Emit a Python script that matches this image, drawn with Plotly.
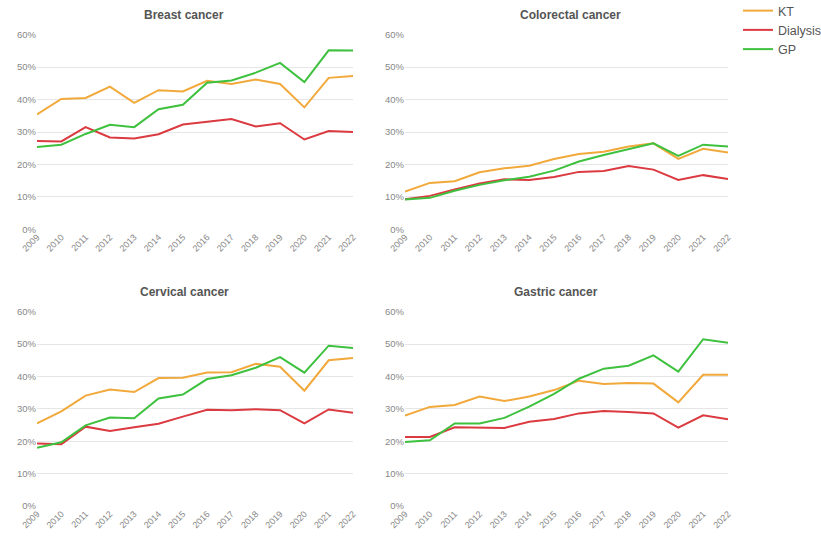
import plotly.graph_objects as go

years = [str(y) for y in range(2009, 2023)]
series_names = ["KT", "Dialysis", "GP"]
colors = {"KT": "#F2A93B", "Dialysis": "#DB3A40", "GP": "#3EC13E"}

breast_kt = [35.4, 40.2, 40.5, 44.0, 39.0, 42.9, 42.5, 45.8, 44.8, 46.2, 44.8, 37.6, 46.7, 47.3]
breast_dialysis = [27.2, 27.1, 31.5, 28.3, 28.0, 29.3, 32.3, 33.1, 34.0, 31.7, 32.7, 27.7, 30.3, 30.0]
breast_gp = [25.4, 26.1, 29.4, 32.2, 31.5, 37.0, 38.4, 45.2, 45.9, 48.3, 51.3, 45.4, 55.2, 55.1]

colorectal_kt = [11.6, 14.3, 14.8, 17.6, 18.8, 19.6, 21.7, 23.2, 23.9, 25.5, 26.5, 21.7, 24.8, 23.7]
colorectal_dialysis = [9.3, 10.3, 12.3, 14.1, 15.4, 15.2, 16.1, 17.7, 18.0, 19.5, 18.4, 15.2, 16.7, 15.5]
colorectal_gp = [9.2, 9.7, 11.9, 13.7, 15.1, 16.2, 18.1, 20.9, 22.9, 24.8, 26.5, 22.6, 26.1, 25.5]

cervical_kt = [25.5, 29.2, 34.1, 36.0, 35.2, 39.5, 39.6, 41.2, 41.3, 43.9, 43.0, 35.6, 45.0, 45.7]
cervical_dialysis = [19.3, 19.1, 24.5, 23.2, 24.3, 25.4, 27.6, 29.7, 29.6, 29.9, 29.6, 25.5, 29.8, 28.8]
cervical_gp = [18.0, 19.7, 24.9, 27.3, 27.1, 33.2, 34.4, 39.2, 40.4, 42.7, 46.0, 41.2, 49.5, 48.8]

gastric_kt = [27.9, 30.6, 31.2, 33.8, 32.4, 33.8, 35.8, 38.7, 37.7, 38.0, 37.8, 32.0, 40.5, 40.5]
gastric_dialysis = [21.3, 21.3, 24.3, 24.2, 24.1, 26.0, 26.9, 28.6, 29.3, 29.0, 28.6, 24.2, 28.0, 26.8]
gastric_gp = [19.8, 20.3, 25.5, 25.5, 27.2, 30.7, 34.6, 39.3, 42.4, 43.3, 46.5, 41.5, 51.5, 50.4]

panels = [
    ("Breast cancer", [breast_kt, breast_dialysis, breast_gp]),
    ("Colorectal cancer", [colorectal_kt, colorectal_dialysis, colorectal_gp]),
    ("Cervical cancer", [cervical_kt, cervical_dialysis, cervical_gp]),
    ("Gastric cancer", [gastric_kt, gastric_dialysis, gastric_gp]),
]
y_ticks = [0, 10, 20, 30, 40, 50, 60]
y_tick_labels = [f"{v}%" for v in y_ticks]

W, H = 821, 536
# pixel boxes: (x0, x1, ytop, ybottom)
boxes = [(37, 353, 34.7, 229.3), (405, 728, 34.7, 229.3),
         (37, 353, 311.7, 506), (405, 728, 311.7, 506)]
title_pos = [(184, 15), (570, 15), (184, 292), (556, 292)]

fig = go.Figure()
font_family = "Arial, Liberation Sans, sans-serif"

for i, (title, vals) in enumerate(panels):
    n = i + 1
    xa = "x" if n == 1 else f"x{n}"
    ya = "y" if n == 1 else f"y{n}"
    for name, v in zip(series_names, vals):
        fig.add_trace(go.Scatter(
            x=years, y=[a / 100 for a in v], mode="lines", name=name,
            line=dict(color=colors[name], width=2),
            xaxis=xa, yaxis=ya, showlegend=(i == 0), legendgroup=name,
        ))
    x0, x1, yt, yb = boxes[i]
    xkey = "xaxis" if n == 1 else f"xaxis{n}"
    ykey = "yaxis" if n == 1 else f"yaxis{n}"
    fig.layout[xkey] = dict(
        domain=[x0 / W, x1 / W], anchor=ya, type="category",
        showgrid=False, zeroline=False, showline=False, automargin=False,
        tickangle=-45, tickfont=dict(size=9, color="#888", family=font_family),
        ticks="", ticklen=0,
    )
    fig.layout[ykey] = dict(
        domain=[1 - yb / H, 1 - yt / H], anchor=xa, range=[0, 0.6],
        tickvals=[t / 100 for t in y_ticks], ticktext=y_tick_labels,
        showgrid=True, gridcolor="#E6E6E6", gridwidth=1, zeroline=False,
        tickfont=dict(size=9.5, color="#888", family=font_family),
        showline=False, ticks="", automargin=False,
    )
    tx, ty = title_pos[i]
    fig.add_annotation(
        x=tx / W, y=1 - ty / H, xref="paper", yref="paper",
        text=f"<b>{title}</b>", showarrow=False,
        font=dict(size=12, color="#555", family=font_family),
        xanchor="center", yanchor="middle",
    )

fig.update_layout(
    width=W, height=H,
    margin=dict(l=0, r=0, t=0, b=0, autoexpand=False),
    paper_bgcolor="white", plot_bgcolor="white",
    font=dict(family=font_family, color="#555"),
    legend=dict(
        x=738 / W, y=1 + 4 / H, xanchor="left", yanchor="top",
        font=dict(size=12.5, color="#555", family=font_family),
        bgcolor="rgba(0,0,0,0)", borderwidth=0, tracegroupgap=0,
        itemwidth=30,
    ),
)

fig.write_html(
    "out.html",
    config={"displayModeBar": False},
    post_script="document.body.style.margin='0';document.body.style.overflow='hidden';",
)
